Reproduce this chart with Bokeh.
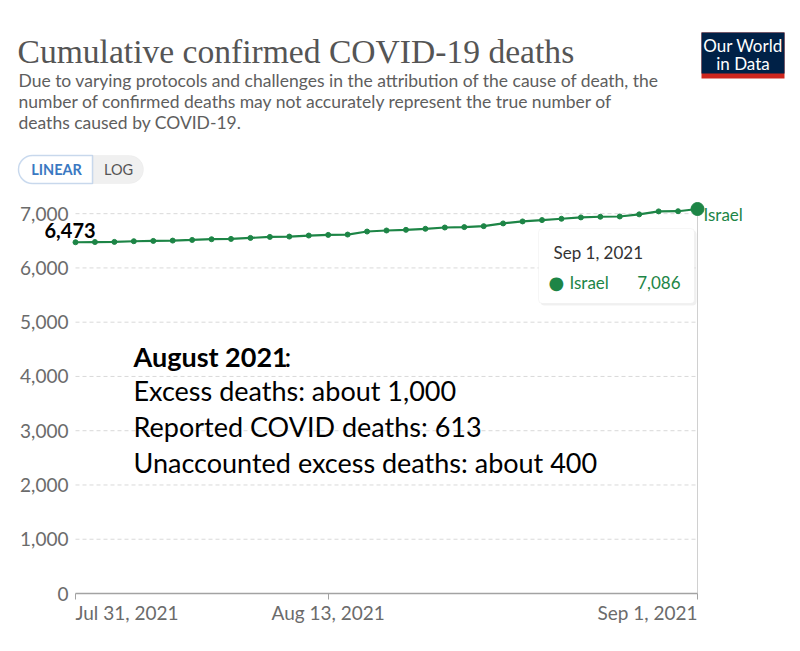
import pandas as pd
from bokeh.plotting import figure
from bokeh.models import Range1d, FixedTicker, NumeralTickFormatter, Label, BoxAnnotation
from bokeh.embed import file_html
from bokeh.resources import INLINE

# Cumulative confirmed COVID-19 deaths, Israel, daily
start_date = "2021-07-31"
end_date = "2021-09-01"
deaths = [6473, 6477, 6480, 6492, 6498, 6504, 6516, 6529, 6535, 6553, 6572,
          6578, 6597, 6609, 6615, 6671, 6690, 6702, 6721, 6745, 6752, 6770,
          6820, 6857, 6882, 6906, 6931, 6943, 6948, 6987, 7042, 7045, 7086]
country = "Israel"
y_ticks = [0, 1000, 2000, 3000, 4000, 5000, 6000, 7000]
x_tick_dates = ["2021-07-31", "2021-08-13", "2021-09-01"]

title_text = "Cumulative confirmed COVID-19 deaths"
subtitle_lines = [
    "Due to varying protocols and challenges in the attribution of the cause of death, the",
    "number of confirmed deaths may not accurately represent the true number of",
    "deaths caused by COVID-19.",
]
note_heading = "August 2021"
note_lines = [
    "Excess deaths: about 1,000",
    f"Reported COVID deaths: {deaths[-1] - deaths[0]}",
    "Unaccounted excess deaths: about 400",
]

dates = pd.date_range(start_date, end_date, freq="D")

GREEN = "#1d8546"
GREY_TXT = "#6b6b6b"
FONT = "Lato"

# canvas and frame geometry (pixels)
W, H = 800, 651
FL, FB = 16, 631            # frame left edge / frame bottom edge
PLOT_X0, PLOT_X1 = 75, 697  # where the first / last date sit
PLOT_Y0, PLOT_YMAX = 593, 208.5  # where 0 / the series maximum sit


def ms(d):
    return pd.Timestamp(d).value // 10**6


# data ranges extended so the plotting area sits inside a full-canvas frame
x0, x1 = ms(dates[0]), ms(dates[-1])
per_px_x = (x1 - x0) / (PLOT_X1 - PLOT_X0)
ymax = max(deaths)
per_px_y = ymax / (PLOT_Y0 - PLOT_YMAX)
x_range = Range1d(x0 - (PLOT_X0 - FL) * per_px_x, x1 + (W - PLOT_X1) * per_px_x)
y_range = Range1d(-(FB - PLOT_Y0) * per_px_y, ymax + PLOT_YMAX * per_px_y)

p = figure(width=W, height=H, x_axis_type="datetime", output_backend="svg",
           toolbar_location=None, tools="", title=None,
           x_range=x_range, y_range=y_range,
           min_border_left=FL, min_border_right=0,
           min_border_top=0, min_border_bottom=H - FB)
p.outline_line_color = None
p.background_fill_color = "white"
p.border_fill_color = "white"
p.xgrid.visible = False
p.ygrid.visible = False


def sx(cx):
    return cx - FL


def sy(cy):
    return FB - cy


# y axis: labels right-aligned just left of the first date
p.yaxis.ticker = FixedTicker(ticks=y_ticks)
p.yaxis.formatter = NumeralTickFormatter(format="0,0")
p.yaxis.axis_line_color = None
p.yaxis.major_tick_line_color = None
p.yaxis.minor_tick_line_color = None
p.yaxis.major_tick_out = 0
p.yaxis.major_tick_in = 0
p.yaxis.major_label_text_font = FONT
p.yaxis.major_label_text_font_size = "19px"
p.yaxis.major_label_text_color = GREY_TXT
p.yaxis.major_label_standoff = -(68 - FL)

# x axis crossing at zero, restricted to the date span
x_ticks = [ms(d) for d in x_tick_dates]
p.xaxis.fixed_location = 0
p.xaxis.bounds = (x0, x1)
p.xaxis.ticker = FixedTicker(ticks=x_ticks)
p.xaxis.major_label_overrides = {t: "" for t in x_ticks}
p.xaxis.major_label_text_font_size = "0px"
p.xaxis.axis_line_color = "#a3a3a3"
p.xaxis.axis_line_width = 1.5
p.xaxis.major_tick_line_color = "#a3a3a3"
p.xaxis.major_tick_out = 6
p.xaxis.major_tick_in = 0
p.xaxis.minor_tick_line_color = None

# horizontal dashed gridlines across the date span
grid_vals = [t for t in y_ticks if t > 0]
p.segment(x0=[x0] * len(grid_vals), x1=[x1] * len(grid_vals), y0=grid_vals,
          y1=grid_vals, line_color="#d9d9d9", line_dash="4 3", line_width=1)

# x tick labels: first left-aligned, middle centred, last right-aligned
for d, align in zip(x_tick_dates, ["left", "center", "right"]):
    ts = pd.Timestamp(d)
    p.add_layout(Label(x=ms(d), y=sy(612), x_units="data", y_units="screen",
                       text=f"{ts.strftime('%b')} {ts.day}, {ts.year}",
                       text_align=align, text_baseline="middle",
                       text_font=FONT, text_font_size="19px",
                       text_color=GREY_TXT))

# hover guide at the last date
p.segment(x0=[x1], x1=[x1], y0=[0], y1=[ymax], line_color="#d0d0d0", line_width=1)

# series
p.line(dates, deaths, line_color=GREEN, line_width=2.2)
p.scatter(dates, deaths, size=5, color=GREEN)
p.scatter(dates[-1:], deaths[-1:], size=13, color=GREEN)

# value callout at the first point
p.add_layout(Label(x=x0, y=deaths[0], text=f"{deaths[0]:,}",
                   text_align="left", text_baseline="middle",
                   x_offset=-31, y_offset=12, text_font=FONT,
                   text_font_style="bold", text_font_size="20px",
                   text_color="black"))

# series name at the end of the line
p.add_layout(Label(x=x1, y=deaths[-1], text=country,
                   text_align="left", text_baseline="middle",
                   x_offset=6, y_offset=-5, text_font=FONT,
                   text_font_size="17px", text_color=GREEN))


def screen_box(l, r, t, b, **kw):
    return BoxAnnotation(left=sx(l), right=sx(r), top=sy(t), bottom=sy(b),
                         left_units="screen", right_units="screen",
                         top_units="screen", bottom_units="screen", **kw)


def screen_label(cx, cy, text, **kw):
    kw.setdefault("text_baseline", "middle")
    kw.setdefault("text_font", FONT)
    return Label(x=sx(cx), y=sy(cy), x_units="screen", y_units="screen",
                 text=text, **kw)


# tooltip card
p.add_layout(screen_box(540, 696, 230, 305, fill_color="#000000", fill_alpha=0.06,
                        line_color=None, border_radius=4))
p.add_layout(screen_box(538, 694, 228, 303, fill_color="white", fill_alpha=1,
                        line_color="#e2e2e2", line_width=1, border_radius=4))
last = dates[-1]
p.add_layout(screen_label(553, 252, f"{last.strftime('%b')} {last.day}, {last.year}",
                          text_font_size="17px", text_color="#333333"))
p.add_layout(screen_label(548, 282, "\u25CF", text_font="DejaVu Sans",
                          text_font_size="18px", text_color=GREEN))
p.add_layout(screen_label(569, 282, country, text_font_size="17px",
                          text_color=GREEN))
p.add_layout(screen_label(680, 282, f"{deaths[-1]:,}", text_align="right",
                          text_font_size="17px", text_color=GREEN))

# note block
p.add_layout(screen_label(133, 356, note_heading, text_font_style="bold",
                          text_font_size="27px", text_color="black"))
p.add_layout(screen_label(284, 356, ":", text_font_size="27px",
                          text_color="black"))
for i, line in enumerate(note_lines):
    p.add_layout(screen_label(133, 390 + 36 * i, line, text_font_size="27px",
                              text_color="black"))

# header: title and subtitle
p.add_layout(screen_label(17, 51, title_text, text_baseline="alphabetic",
                          text_font="Liberation Serif", text_font_size="33.6px",
                          text_color="#555555"))
for i, line in enumerate(subtitle_lines):
    p.add_layout(screen_label(18, 80 + 21 * i, line, text_font_size="17.5px",
                              text_color="#5e5e5e"))

# logo
p.add_layout(screen_box(701, 784, 32, 78, fill_color="#ce261e", fill_alpha=1,
                        line_color=None))
p.add_layout(screen_box(701, 784, 32, 73, fill_color="#002147", fill_alpha=1,
                        line_color=None))
for txt, cy in [("Our World", 45), ("in Data", 63)]:
    p.add_layout(screen_label(742.5, cy, txt, text_align="center",
                              text_font_size="17px", text_color="white"))

# scale toggle
p.add_layout(screen_box(18, 143, 155, 183, fill_color="#f0f0f0", fill_alpha=1,
                        line_color="#e4e4e4", border_radius=14))
p.add_layout(screen_box(18, 92, 155, 183, fill_color="white", fill_alpha=1,
                        line_color="#5a8fd0", line_width=1.5,
                        border_radius=(14, 0, 0, 14)))
p.add_layout(screen_label(56, 169, "LINEAR", text_align="center",
                          text_font_style="bold", text_font_size="14.5px",
                          text_color="#3a78c2"))
p.add_layout(screen_label(118, 169, "LOG", text_align="center",
                          text_font_size="14.5px", text_color="#555555"))

open("out.html", "w").write(file_html(p, INLINE))
